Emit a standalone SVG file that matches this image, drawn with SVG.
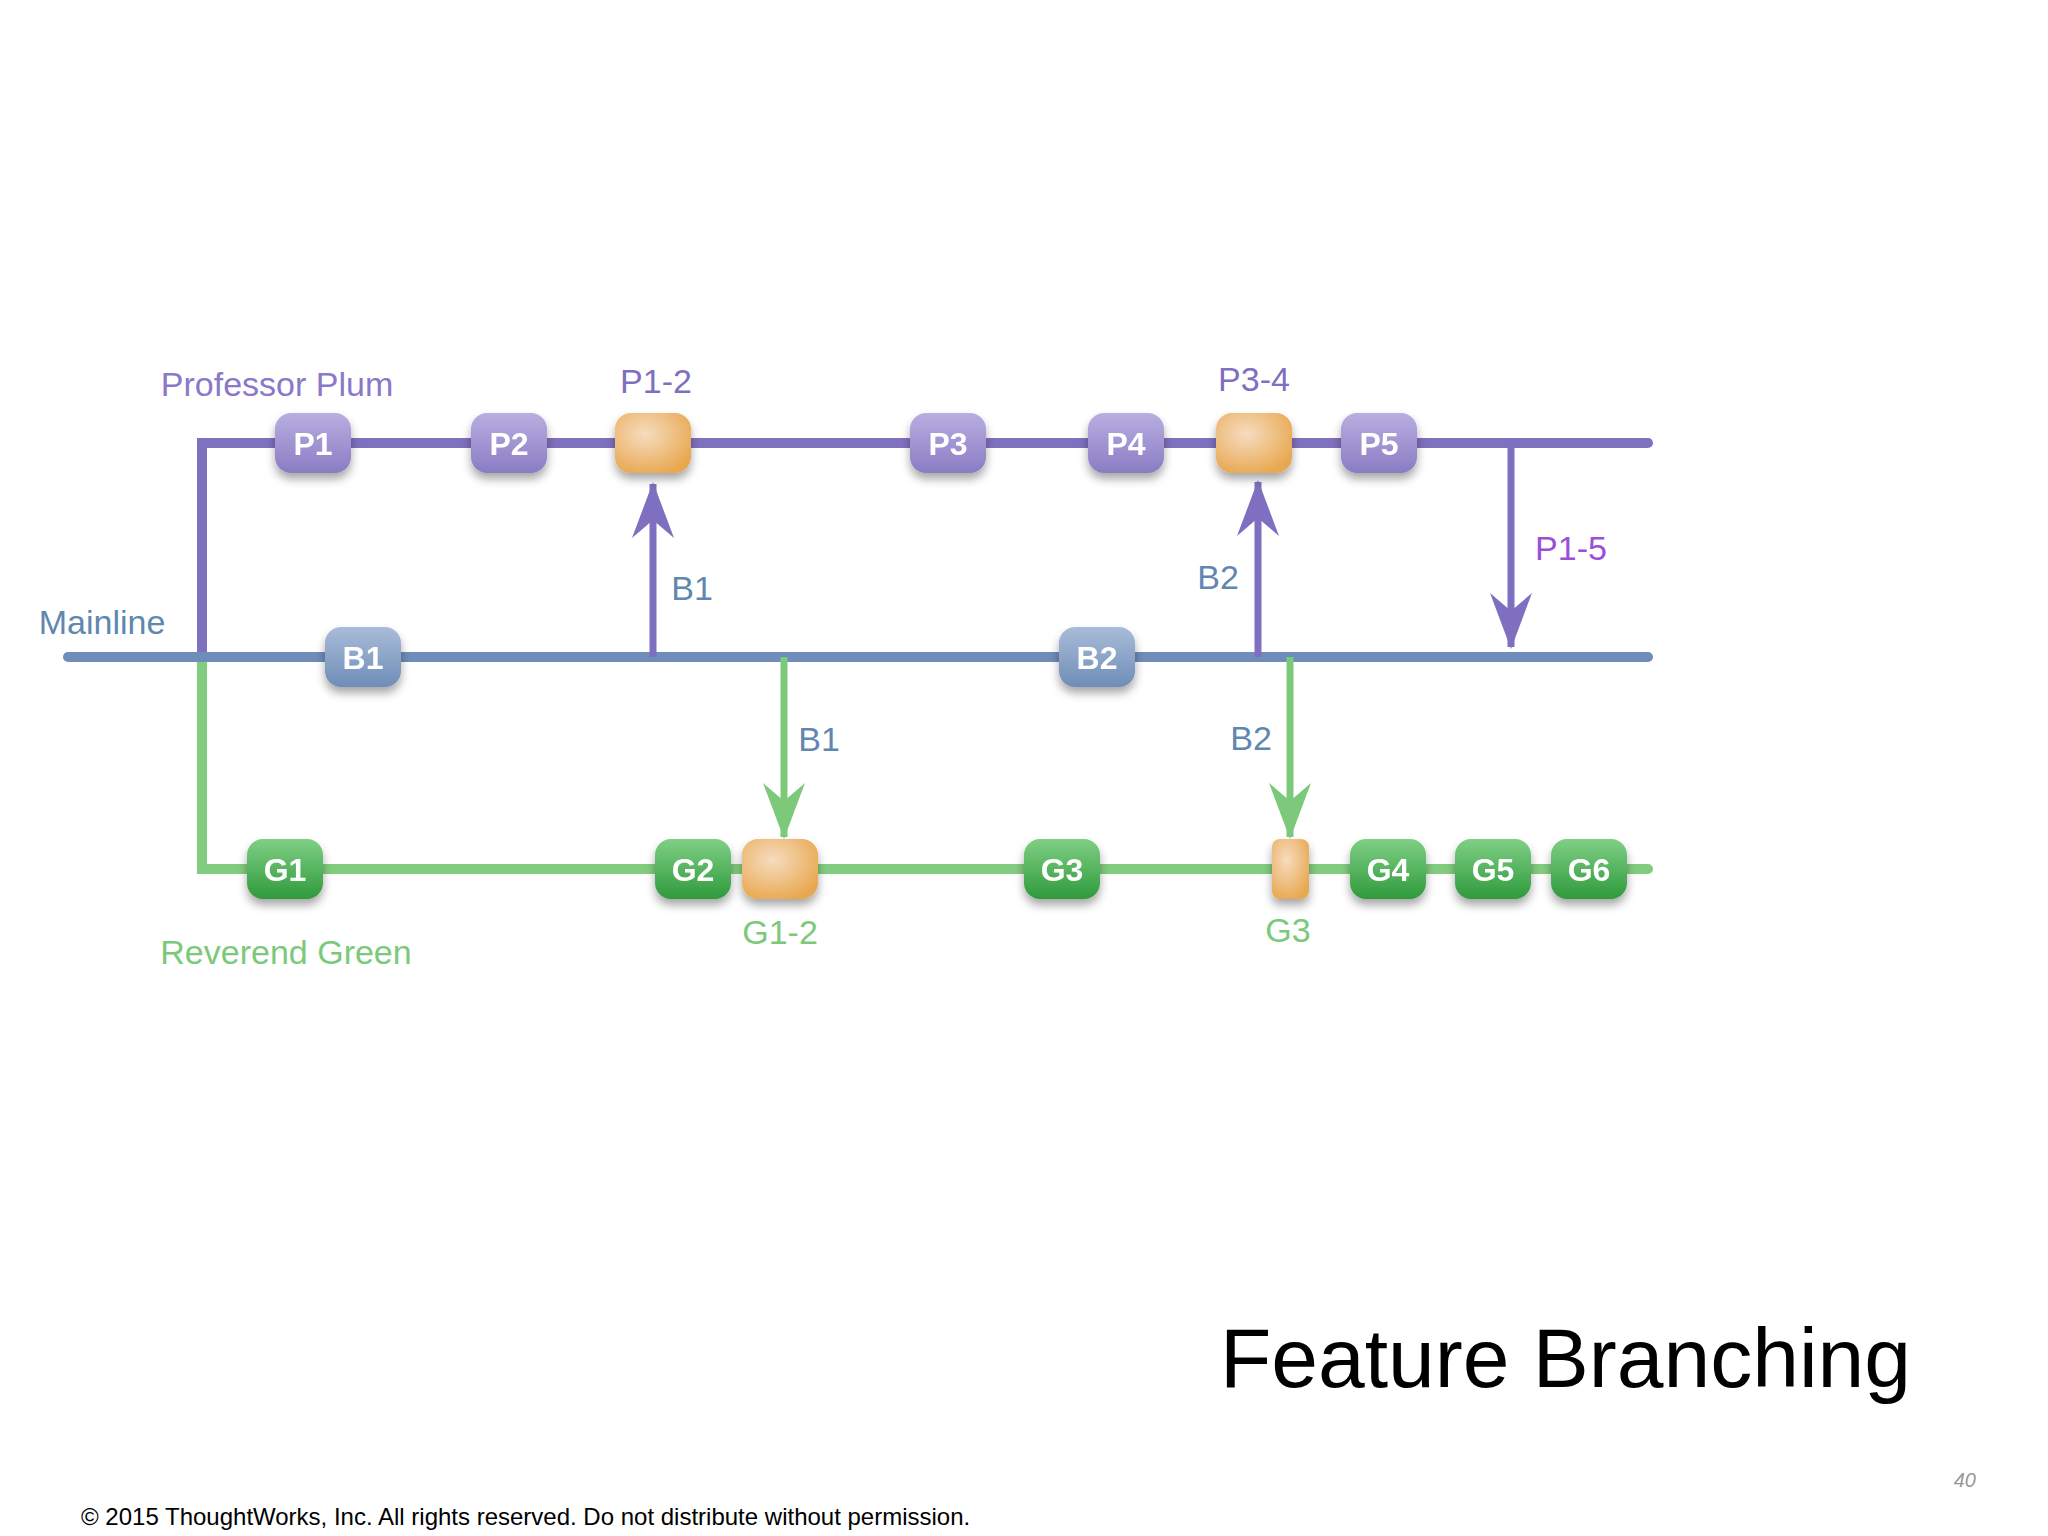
<svg xmlns="http://www.w3.org/2000/svg" width="2048" height="1536" viewBox="0 0 2048 1536">
<defs>
<style>
.lbl{font-family:"Liberation Sans",Arial,sans-serif;font-size:34px;text-anchor:middle}
.nt{font-family:"Liberation Sans",Arial,sans-serif;font-size:32px;font-weight:bold;fill:#fff;text-anchor:middle}
</style>
<linearGradient id="gp" x1="0" y1="0" x2="0" y2="1"><stop offset="0" stop-color="#b8aee0"/><stop offset="1" stop-color="#8a7cc4"/></linearGradient>
<linearGradient id="gb" x1="0" y1="0" x2="0" y2="1"><stop offset="0" stop-color="#a9bcd8"/><stop offset="1" stop-color="#6f8db8"/></linearGradient>
<linearGradient id="gg" x1="0" y1="0" x2="0" y2="1"><stop offset="0" stop-color="#7fcf84"/><stop offset="1" stop-color="#2f9a3c"/></linearGradient>
<radialGradient id="go" cx="0.4" cy="0.35" r="0.7"><stop offset="0" stop-color="#f6dcc0"/><stop offset="1" stop-color="#e8a850"/></radialGradient>
<filter id="sh" x="-30%" y="-30%" width="160%" height="180%"><feDropShadow dx="0" dy="6" stdDeviation="5" flood-color="#000" flood-opacity="0.35"/></filter>
<marker id="ap" viewBox="0 0 56 46" refX="54" refY="23" markerWidth="56" markerHeight="46" markerUnits="userSpaceOnUse" orient="auto"><path d="M56 23 L0 2 L18 23 L0 44 Z" fill="#7f6fc0"/></marker>
<marker id="ag" viewBox="0 0 56 46" refX="54" refY="23" markerWidth="56" markerHeight="46" markerUnits="userSpaceOnUse" orient="auto"><path d="M56 23 L0 2 L18 23 L0 44 Z" fill="#7cc97c"/></marker>
</defs>
<rect width="2048" height="1536" fill="#fff"/>
<g id="connectors" fill="none" stroke-linecap="round">
<path d="M202 657 V443 H1648" stroke="#8070c0" stroke-width="10"/>
<path d="M202 657 V869 H1648" stroke="#82cc7f" stroke-width="10"/>
<path d="M68 657 H1648" stroke="#6f8db8" stroke-width="10"/>
<line x1="653" y1="657" x2="653" y2="484" stroke="#7f6fc0" stroke-width="7" stroke-linecap="butt" marker-end="url(#ap)"/>
<line x1="1258" y1="657" x2="1258" y2="482" stroke="#7f6fc0" stroke-width="7" stroke-linecap="butt" marker-end="url(#ap)"/>
<line x1="1511" y1="443" x2="1511" y2="647" stroke="#7f6fc0" stroke-width="7" stroke-linecap="butt" marker-end="url(#ap)"/>
<line x1="784" y1="657" x2="784" y2="837" stroke="#7cc97c" stroke-width="7" stroke-linecap="butt" marker-end="url(#ag)"/>
<line x1="1290" y1="657" x2="1290" y2="837" stroke="#7cc97c" stroke-width="7" stroke-linecap="butt" marker-end="url(#ag)"/>
</g>
<g id="labels">
<text class="lbl" x="277" y="396" fill="#8a78c8">Professor Plum</text>
<text class="lbl" x="656" y="393" fill="#7f6fc0">P1-2</text>
<text class="lbl" x="1254" y="391" fill="#7f6fc0">P3-4</text>
<text class="lbl" x="102" y="634" fill="#5f87b0">Mainline</text>
<text class="lbl" x="286" y="964" fill="#7cc97c">Reverend Green</text>
<text class="lbl" x="780" y="944" fill="#7cc97c">G1-2</text>
<text class="lbl" x="1288" y="942" fill="#7cc97c">G3</text>
<text class="lbl" x="692" y="600" fill="#5f87b0">B1</text>
<text class="lbl" x="1218" y="589" fill="#5f87b0">B2</text>
<text class="lbl" x="1571" y="560" fill="#9b4fd8">P1-5</text>
<text class="lbl" x="819" y="751" fill="#5f87b0">B1</text>
<text class="lbl" x="1251" y="750" fill="#5f87b0">B2</text>
</g>
<g id="P1" filter="url(#sh)"><rect x="275" y="413" width="76" height="60" rx="16" fill="url(#gp)"/><text class="nt" x="313" y="455">P1</text></g>
<g id="P2" filter="url(#sh)"><rect x="471" y="413" width="76" height="60" rx="16" fill="url(#gp)"/><text class="nt" x="509" y="455">P2</text></g>
<g id="P1-2n" filter="url(#sh)"><rect x="615" y="413" width="76" height="60" rx="16" fill="url(#go)"/></g>
<g id="P3" filter="url(#sh)"><rect x="910" y="413" width="76" height="60" rx="16" fill="url(#gp)"/><text class="nt" x="948" y="455">P3</text></g>
<g id="P4" filter="url(#sh)"><rect x="1088" y="413" width="76" height="60" rx="16" fill="url(#gp)"/><text class="nt" x="1126" y="455">P4</text></g>
<g id="P3-4n" filter="url(#sh)"><rect x="1216" y="413" width="76" height="60" rx="16" fill="url(#go)"/></g>
<g id="P5" filter="url(#sh)"><rect x="1341" y="413" width="76" height="60" rx="16" fill="url(#gp)"/><text class="nt" x="1379" y="455">P5</text></g>
<g id="B1" filter="url(#sh)"><rect x="325" y="627" width="76" height="60" rx="16" fill="url(#gb)"/><text class="nt" x="363" y="669">B1</text></g>
<g id="B2" filter="url(#sh)"><rect x="1059" y="627" width="76" height="60" rx="16" fill="url(#gb)"/><text class="nt" x="1097" y="669">B2</text></g>
<g id="G1" filter="url(#sh)"><rect x="247" y="839" width="76" height="60" rx="16" fill="url(#gg)"/><text class="nt" x="285" y="881">G1</text></g>
<g id="G2" filter="url(#sh)"><rect x="655" y="839" width="76" height="60" rx="16" fill="url(#gg)"/><text class="nt" x="693" y="881">G2</text></g>
<g id="G1-2n" filter="url(#sh)"><rect x="742" y="839" width="76" height="60" rx="16" fill="url(#go)"/></g>
<g id="G3" filter="url(#sh)"><rect x="1024" y="839" width="76" height="60" rx="16" fill="url(#gg)"/><text class="nt" x="1062" y="881">G3</text></g>
<g id="G3n" filter="url(#sh)"><rect x="1272" y="839" width="37" height="60" rx="8" fill="url(#go)"/></g>
<g id="G4" filter="url(#sh)"><rect x="1350" y="839" width="76" height="60" rx="16" fill="url(#gg)"/><text class="nt" x="1388" y="881">G4</text></g>
<g id="G5" filter="url(#sh)"><rect x="1455" y="839" width="76" height="60" rx="16" fill="url(#gg)"/><text class="nt" x="1493" y="881">G5</text></g>
<g id="G6" filter="url(#sh)"><rect x="1551" y="839" width="76" height="60" rx="16" fill="url(#gg)"/><text class="nt" x="1589" y="881">G6</text></g>
<text x="1911" y="1387" font-family="Liberation Sans,Arial,sans-serif" font-size="84" text-anchor="end" fill="#000">Feature Branching</text>
<text x="81" y="1525" font-family="Liberation Sans,Arial,sans-serif" font-size="24" fill="#000">© 2015 ThoughtWorks, Inc. All rights reserved. Do not distribute without permission.</text>
<text x="1976" y="1487" font-family="Liberation Sans,Arial,sans-serif" font-size="20" font-style="italic" text-anchor="end" fill="#999">40</text>
</svg>
